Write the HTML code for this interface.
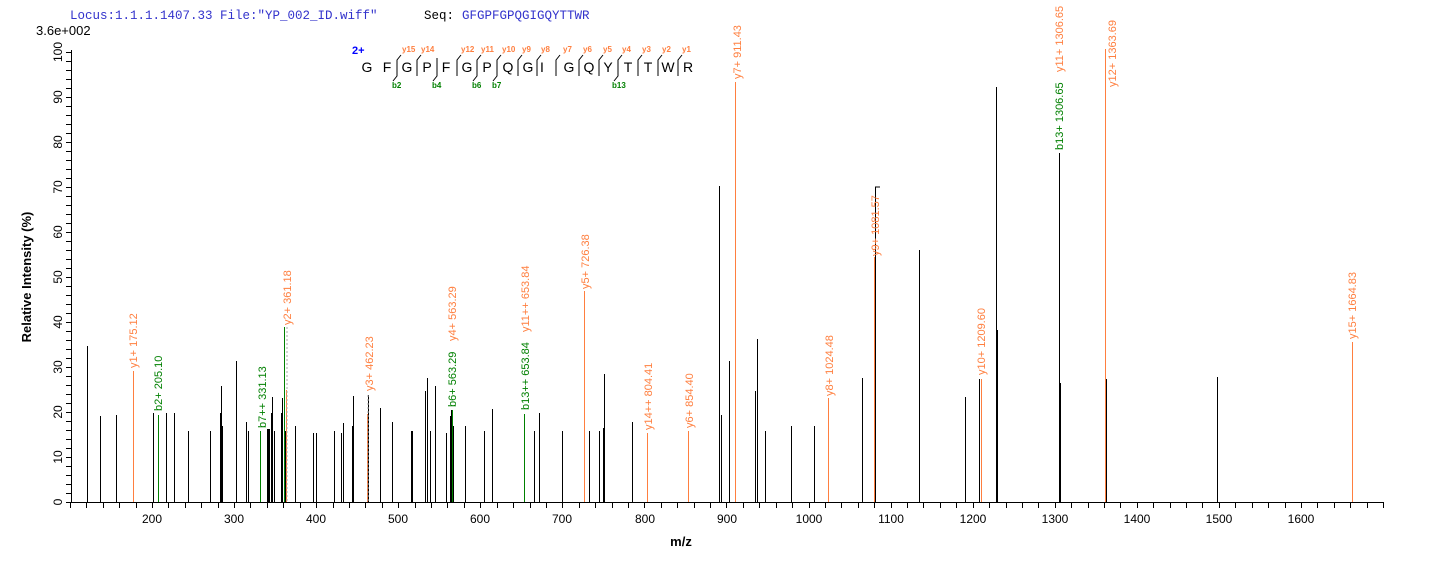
<!DOCTYPE html>
<html><head><meta charset="utf-8"><style>
body{margin:0;background:#fff;width:1436px;height:562px;overflow:hidden}
svg{display:block;font-family:"Liberation Sans",sans-serif}
.o{fill:#FF7F3F;font-size:11px}
.g{fill:#008000;font-size:11px}
</style></head><body>
<svg id="s" width="1436" height="562" viewBox="0 0 1436 562">
<text x="70" y="19" font-family="Liberation Mono" font-size="12.5" fill="#3333cc">Locus:1.1.1.1407.33 File:"YP_002_ID.wiff"</text>
<text x="424" y="19" font-family="Liberation Mono" font-size="12.5" fill="#000">Seq:</text>
<text x="462" y="19" font-family="Liberation Mono" font-size="12.5" fill="#3333cc">GFGPFGPQGIGQYTTWR</text>
<text x="36" y="35" font-size="13" fill="#000">3.6e+002</text>
<g stroke="#000" stroke-width="1"><line x1="71.5" y1="50" x2="71.5" y2="502"/><line x1="71" y1="502.5" x2="1384" y2="502.5"/></g>
<g id="ticks" stroke="#000" stroke-width="1"></g>
<g font-size="12" fill="#000" text-anchor="middle">
<text transform="translate(62,502) rotate(-90)">0</text>
<text transform="translate(62,457) rotate(-90)">10</text>
<text transform="translate(62,412) rotate(-90)">20</text>
<text transform="translate(62,367) rotate(-90)">30</text>
<text transform="translate(62,322) rotate(-90)">40</text>
<text transform="translate(62,277) rotate(-90)">50</text>
<text transform="translate(62,232) rotate(-90)">60</text>
<text transform="translate(62,187) rotate(-90)">70</text>
<text transform="translate(62,142) rotate(-90)">80</text>
<text transform="translate(62,97) rotate(-90)">90</text>
<text transform="translate(62,52) rotate(-90)">100</text>
<text x="152" y="523">200</text><text x="234" y="523">300</text><text x="316" y="523">400</text><text x="398" y="523">500</text><text x="480" y="523">600</text><text x="562" y="523">700</text><text x="645" y="523">800</text><text x="727" y="523">900</text><text x="809" y="523">1000</text><text x="891" y="523">1100</text><text x="973" y="523">1200</text><text x="1055" y="523">1300</text><text x="1137" y="523">1400</text><text x="1219" y="523">1500</text><text x="1301" y="523">1600</text>
</g>
<text x="681" y="546" font-size="13" font-weight="bold" text-anchor="middle">m/z</text>
<text transform="translate(31,277) rotate(-90)" font-size="13" font-weight="bold" text-anchor="middle">Relative   Intensity (%)</text>
<g id="peaks"></g>
<g stroke="#aaa" stroke-dasharray="2,2"><line x1="287" y1="327" x2="287" y2="502"/><line x1="368" y1="395" x2="368" y2="502"/></g>
<text class="o" transform="translate(137,368) rotate(-90)">y1+ 175.12</text>
<text class="g" transform="translate(162,411) rotate(-90)">b2+ 205.10</text>
<text class="g" transform="translate(266,428) rotate(-90)">b7++ 331.13</text>
<text class="o" transform="translate(291,325) rotate(-90)">y2+ 361.18</text>
<text class="o" transform="translate(373,391) rotate(-90)">y3+ 462.23</text>
<text class="g" transform="translate(456,407) rotate(-90)">b6+ 563.29</text>
<text class="o" transform="translate(456,341) rotate(-90)">y4+ 563.29</text>
<text class="g" transform="translate(529,410) rotate(-90)">b13++ 653.84</text>
<text class="o" transform="translate(529,332) rotate(-90)">y11++ 653.84</text>
<text class="o" transform="translate(589,289) rotate(-90)">y5+ 726.38</text>
<text class="o" transform="translate(652,430) rotate(-90)">y14++ 804.41</text>
<text class="o" transform="translate(693,428) rotate(-90)">y6+ 854.40</text>
<text class="o" transform="translate(741,79) rotate(-90)">y7+ 911.43</text>
<text class="o" transform="translate(879,256) rotate(-90)">y9+ 1081.57</text>
<text class="o" transform="translate(833,396) rotate(-90)">y8+ 1024.48</text>
<text class="o" transform="translate(985,375) rotate(-90)">y10+ 1209.60</text>
<text class="g" transform="translate(1063,150) rotate(-90)">b13+ 1306.65</text>
<text class="o" transform="translate(1063,72) rotate(-90)">y11+ 1306.65</text>
<text class="o" transform="translate(1116,87) rotate(-90)">y12+ 1363.69</text>
<text class="o" transform="translate(1356,339) rotate(-90)">y15+ 1664.83</text>
<text x="352" y="54" font-size="11" font-weight="bold" fill="#0000ff">2+</text>
<g font-size="14" fill="#000" text-anchor="middle">
<text x="367" y="72">G</text><text x="387" y="72">F</text><text x="407" y="72">G</text><text x="427" y="72">P</text><text x="446" y="72">F</text><text x="467" y="72">G</text><text x="487" y="72">P</text><text x="508" y="72">Q</text><text x="528" y="72">G</text><text x="542" y="72">I</text><text x="569" y="72">G</text><text x="589" y="72">Q</text><text x="608" y="72">Y</text><text x="628" y="72">T</text><text x="648" y="72">T</text><text x="668" y="72">W</text><text x="688" y="72">R</text>
</g>
<g id="brk" stroke="#000" fill="none" stroke-width="1"></g>
<g font-size="8" fill="#FF7F3F" font-weight="bold">
<text x="402" y="52">y15</text><text x="421" y="52">y14</text><text x="461" y="52">y12</text><text x="481" y="52">y11</text><text x="502" y="52">y10</text><text x="522" y="52">y9</text><text x="541" y="52">y8</text><text x="563" y="52">y7</text><text x="583" y="52">y6</text><text x="603" y="52">y5</text><text x="622" y="52">y4</text><text x="642" y="52">y3</text><text x="662" y="52">y2</text><text x="682" y="52">y1</text>
</g>
<g font-size="8" fill="#008000" font-weight="bold">
<text x="392" y="88">b2</text><text x="432" y="88">b4</text><text x="472" y="88">b6</text><text x="492" y="88">b7</text><text x="612" y="88">b13</text>
</g>
</svg>
<script>
var NS="http://www.w3.org/2000/svg";
function L(g,x1,y1,x2,y2,c,w){var l=document.createElementNS(NS,"line");l.setAttribute("x1",x1);l.setAttribute("y1",y1);l.setAttribute("x2",x2);l.setAttribute("y2",y2);l.setAttribute("stroke",c);l.setAttribute("stroke-width",w||1);g.appendChild(l);}
var t=document.getElementById("ticks");
for(var m=100;m<=1700;m+=20){var x=Math.round(152+(m-200)*0.8207)+0.5;L(t,x,502,x,508,"#000");}
for(var v=0;v<=100;v+=2){var y=Math.round(502-v*4.505)+0.5;L(t,66,y,71,y,"#000");}
var p=document.getElementById("peaks");
var blk=[[87,346],[100,416],[116,415],[153,413],[166,413],[174,413],[188,431],[210,431],[220,413],[221,386],[222,426],[236,361],[246,422],[248,431],[267,429],[268,429],[269,429],[271,413],[272,397],[274,431],[281,413],[282,398],[285,431],[295,426],[313,433],[316,433],[334,431],[341,433],[343,423],[352,426],[353,396],[368,395],[380,408],[392,422],[411,431],[412,431],[425,391],[427,378],[430,431],[435,386],[446,433],[450,416],[451,410],[453,426],[465,426],[484,431],[492,409],[524,414],[534,431],[539,413],[562,431],[589,431],[599,431],[603,428],[604,374],[632,422],[719,186],[721,415],[729,361],[755,391],[757,339],[765,431],[791,426],[814,426],[862,378],[875,187],[919,250],[965,397],[979,379],[996,87],[997,330],[1059,153],[1060,383],[1106,379],[1217,377]];
blk.forEach(function(a){L(p,a[0]+0.5,a[1],a[0]+0.5,502,"#000");});
[[133,371],[367,414],[286,390],[584,291],[647,433],[688,431],[735,82],[828,398],[874,257],[981,379],[1105,49],[1352,342]].forEach(function(a){L(p,a[0]+0.5,a[1],a[0]+0.5,502,"#FF7F3F");});
[[158,415],[260,431],[284,327],[452,410],[524,414]].forEach(function(a){L(p,a[0]+0.5,a[1],a[0]+0.5,502,"#008000");});
L(p,875,187,880,187,"#000");
var b=document.getElementById("brk");
function br(x,top,bot){var pa=document.createElementNS(NS,"path");var d="M"+x+" 58 L"+x+" 76";if(top)d="M"+(x+4)+" 55 L"+x+" 60 L"+x+" 76";if(bot)d+=" L"+(x-4)+" 81";pa.setAttribute("d",d);b.appendChild(pa);}
br(397,1,1);br(417,1,0);br(437,0,1);br(457,1,0);br(477,1,1);br(497,1,1);br(518,1,0);br(537,1,0);br(556,1,0);br(579,1,0);br(599,1,0);br(618,1,1);br(638,1,0);br(658,1,0);br(678,1,0);
</script>
</body></html>
